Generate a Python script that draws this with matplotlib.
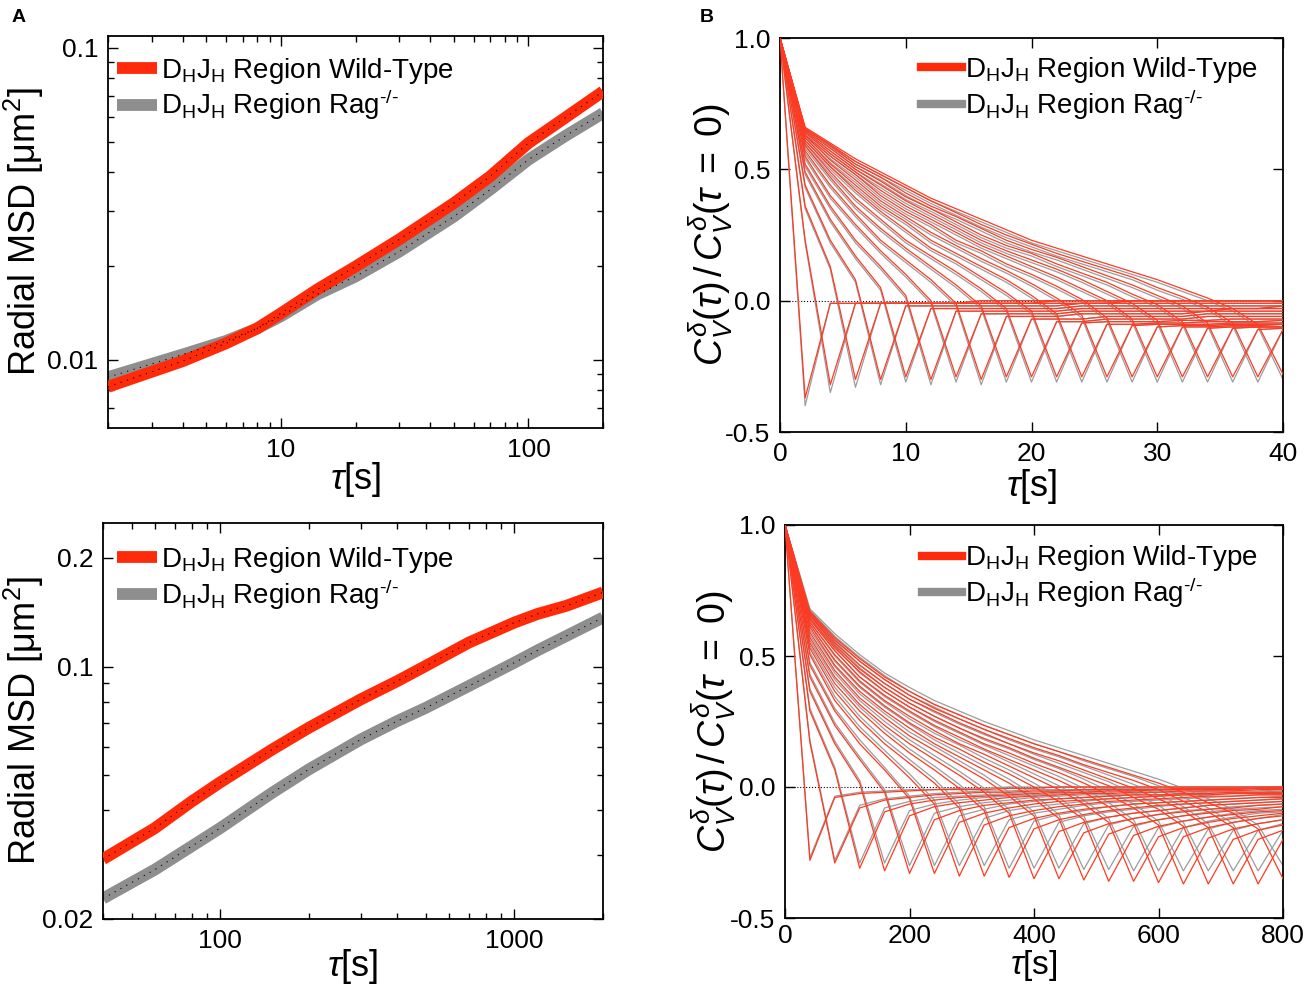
import matplotlib
matplotlib.use('Agg')
import matplotlib.pyplot as plt
from matplotlib.ticker import FixedLocator, NullFormatter, FuncFormatter

# fonts
plt.rcParams['font.family'] = ['Liberation Sans', 'DejaVu Sans']
plt.rcParams['mathtext.fontset'] = 'custom'
plt.rcParams['mathtext.rm'] = 'Liberation Sans'
plt.rcParams['mathtext.it'] = 'Liberation Sans:italic'
plt.rcParams['mathtext.bf'] = 'Liberation Sans:bold'
plt.rcParams['axes.unicode_minus'] = False

RED = '#ff2a0a'
GRAY = '#8e8e8e'
LINE_RED = '#ff3a22'
LINE_GRAY = '#9c9c9c'

LABEL_WT = r'D$_{\mathrm{H}}$J$_{\mathrm{H}}$ Region Wild-Type'
LABEL_RAG = r'D$_{\mathrm{H}}$J$_{\mathrm{H}}$ Region Rag$^{\text{-/-}}$'

# ---- panel A top: radial MSD, short times
msd_tau_short = [2, 4, 6, 8, 10, 14, 20, 30, 50, 70, 100, 140, 200]
msd_wt_short = [0.0082, 0.0099, 0.0113, 0.0126, 0.0141, 0.0168, 0.0199, 0.0243,
                0.0318, 0.0387, 0.0495, 0.0595, 0.0724]
msd_rag_short = [0.0088, 0.0104, 0.0115, 0.0126, 0.0138, 0.0162, 0.0185, 0.0222,
                 0.0288, 0.0351, 0.0438, 0.0520, 0.0617]

# ---- panel A bottom: radial MSD, long times
msd_tau_long = [40, 60, 80, 100, 150, 200, 300, 400, 500, 700, 1000, 1200, 1500, 2000]
msd_wt_long = [0.0293, 0.0357, 0.0423, 0.0478, 0.0589, 0.0677, 0.0811, 0.0912,
               0.1005, 0.1166, 0.1325, 0.1400, 0.1474, 0.1606]
msd_rag_long = [0.0228, 0.0274, 0.0318, 0.0357, 0.0447, 0.0519, 0.0628, 0.0707,
                0.0769, 0.0884, 0.1026, 0.1110, 0.1216, 0.1368]

# ---- panel B top: velocity autocorrelation, lag 2 s, one row per delta = 2..40 s
vacf_tau_short = [0, 2, 4, 6, 8, 10, 12, 14, 16, 18, 20, 22, 24, 26, 28, 30, 32, 34, 36, 38, 40]
vacf_wt_short = [
    [1.00, -0.37, -0.01, -0.01, -0.01, -0.01, -0.01, -0.01, 0.00, 0.00, 0.00, 0.00, 0.00, 0.00, 0.00, 0.00, 0.00, 0.00, 0.00, 0.00, 0.00],
    [1.00, 0.23, -0.32, -0.01, -0.01, -0.01, -0.01, -0.01, -0.01, -0.01, -0.01, 0.00, 0.00, 0.00, 0.00, 0.00, 0.00, 0.00, 0.00, 0.00, 0.00],
    [1.00, 0.36, 0.13, -0.30, -0.01, -0.01, -0.01, -0.01, -0.01, -0.01, -0.01, -0.01, -0.01, -0.01, 0.00, 0.00, 0.00, 0.00, 0.00, 0.00, 0.00],
    [1.00, 0.44, 0.23, 0.08, -0.30, -0.02, -0.02, -0.02, -0.02, -0.02, -0.02, -0.02, -0.01, -0.01, -0.01, -0.01, -0.01, -0.01, -0.01, -0.01, -0.01],
    [1.00, 0.49, 0.31, 0.17, 0.05, -0.29, -0.03, -0.03, -0.03, -0.03, -0.03, -0.03, -0.02, -0.02, -0.02, -0.02, -0.02, -0.02, -0.02, -0.02, -0.02],
    [1.00, 0.52, 0.36, 0.23, 0.13, 0.02, -0.30, -0.04, -0.04, -0.04, -0.04, -0.04, -0.03, -0.03, -0.03, -0.03, -0.03, -0.03, -0.03, -0.03, -0.02],
    [1.00, 0.55, 0.40, 0.29, 0.19, 0.10, 0.00, -0.29, -0.05, -0.05, -0.05, -0.05, -0.04, -0.04, -0.04, -0.04, -0.04, -0.04, -0.03, -0.03, -0.03],
    [1.00, 0.57, 0.44, 0.33, 0.23, 0.155, 0.08, -0.01, -0.30, -0.06, -0.06, -0.06, -0.05, -0.05, -0.05, -0.05, -0.05, -0.04, -0.04, -0.04, -0.04],
    [1.00, 0.59, 0.47, 0.36, 0.275, 0.20, 0.13, 0.06, -0.02, -0.29, -0.07, -0.07, -0.07, -0.06, -0.06, -0.06, -0.06, -0.05, -0.05, -0.05, -0.05],
    [1.00, 0.60, 0.49, 0.39, 0.31, 0.23, 0.17, 0.11, 0.045, -0.03, -0.29, -0.08, -0.08, -0.07, -0.07, -0.07, -0.07, -0.06, -0.06, -0.06, -0.06],
    [1.00, 0.61, 0.51, 0.42, 0.34, 0.27, 0.20, 0.15, 0.09, 0.03, -0.04, -0.29, -0.085, -0.08, -0.08, -0.08, -0.075, -0.075, -0.07, -0.07, -0.07],
    [1.00, 0.62, 0.52, 0.44, 0.36, 0.30, 0.23, 0.18, 0.13, 0.08, 0.02, -0.05, -0.29, -0.09, -0.09, -0.085, -0.085, -0.08, -0.08, -0.08, -0.075],
    [1.00, 0.63, 0.535, 0.46, 0.38, 0.32, 0.26, 0.21, 0.16, 0.115, 0.065, 0.01, -0.055, -0.29, -0.095, -0.09, -0.09, -0.09, -0.085, -0.085, -0.085],
    [1.00, 0.63, 0.55, 0.48, 0.40, 0.34, 0.29, 0.23, 0.19, 0.14, 0.10, 0.055, 0.005, -0.065, -0.29, -0.10, -0.095, -0.095, -0.09, -0.09, -0.09],
    [1.00, 0.64, 0.56, 0.49, 0.42, 0.36, 0.31, 0.26, 0.21, 0.17, 0.13, 0.09, 0.045, 0.00, -0.07, -0.29, -0.10, -0.10, -0.095, -0.095, -0.09],
    [1.00, 0.645, 0.57, 0.50, 0.44, 0.38, 0.33, 0.28, 0.23, 0.19, 0.155, 0.12, 0.08, 0.035, -0.01, -0.075, -0.29, -0.105, -0.10, -0.10, -0.10],
    [1.00, 0.65, 0.58, 0.51, 0.455, 0.395, 0.35, 0.30, 0.25, 0.21, 0.18, 0.14, 0.105, 0.07, 0.025, -0.015, -0.08, -0.29, -0.105, -0.10, -0.10],
    [1.00, 0.655, 0.59, 0.52, 0.47, 0.41, 0.36, 0.32, 0.275, 0.23, 0.195, 0.165, 0.13, 0.095, 0.06, 0.02, -0.02, -0.085, -0.29, -0.11, -0.105],
    [1.00, 0.655, 0.595, 0.53, 0.48, 0.43, 0.38, 0.335, 0.29, 0.25, 0.215, 0.18, 0.15, 0.12, 0.09, 0.05, 0.015, -0.025, -0.085, -0.29, -0.11],
    [1.00, 0.66, 0.60, 0.54, 0.49, 0.44, 0.39, 0.35, 0.31, 0.27, 0.23, 0.20, 0.17, 0.14, 0.11, 0.08, 0.045, 0.01, -0.03, -0.09, -0.28],
]
vacf_rag_short = [
    [1.00, -0.40, -0.01, -0.01, -0.01, -0.01, -0.01, -0.01, 0.00, 0.00, 0.00, 0.00, 0.00, 0.00, 0.00, 0.00, 0.00, 0.00, 0.00, 0.00, 0.00],
    [1.00, 0.22, -0.35, -0.01, -0.01, -0.01, -0.01, -0.01, -0.01, -0.01, -0.01, 0.00, 0.00, 0.00, 0.00, 0.00, 0.00, 0.00, 0.00, 0.00, 0.00],
    [1.00, 0.35, 0.12, -0.33, -0.01, -0.01, -0.01, -0.01, -0.01, -0.01, -0.01, -0.01, -0.01, -0.01, 0.00, 0.00, 0.00, 0.00, 0.00, 0.00, 0.00],
    [1.00, 0.43, 0.22, 0.07, -0.32, -0.02, -0.02, -0.02, -0.02, -0.02, -0.02, -0.02, -0.01, -0.01, -0.01, -0.01, -0.01, -0.01, -0.01, -0.01, -0.01],
    [1.00, 0.48, 0.30, 0.16, 0.04, -0.31, -0.03, -0.03, -0.03, -0.03, -0.03, -0.03, -0.02, -0.02, -0.02, -0.02, -0.02, -0.02, -0.02, -0.02, -0.02],
    [1.00, 0.51, 0.35, 0.22, 0.12, 0.01, -0.32, -0.04, -0.04, -0.04, -0.04, -0.04, -0.03, -0.03, -0.03, -0.03, -0.03, -0.03, -0.03, -0.03, -0.02],
    [1.00, 0.54, 0.39, 0.28, 0.18, 0.09, -0.01, -0.31, -0.05, -0.05, -0.05, -0.05, -0.04, -0.04, -0.04, -0.04, -0.04, -0.04, -0.03, -0.03, -0.03],
    [1.00, 0.56, 0.43, 0.32, 0.22, 0.145, 0.07, -0.02, -0.32, -0.06, -0.06, -0.06, -0.05, -0.05, -0.05, -0.05, -0.05, -0.04, -0.04, -0.04, -0.04],
    [1.00, 0.58, 0.46, 0.35, 0.265, 0.19, 0.12, 0.05, -0.03, -0.31, -0.07, -0.07, -0.07, -0.06, -0.06, -0.06, -0.06, -0.05, -0.05, -0.05, -0.05],
    [1.00, 0.59, 0.48, 0.38, 0.30, 0.22, 0.16, 0.10, 0.035, -0.04, -0.31, -0.08, -0.08, -0.07, -0.07, -0.07, -0.07, -0.06, -0.06, -0.06, -0.06],
    [1.00, 0.60, 0.50, 0.41, 0.33, 0.26, 0.19, 0.14, 0.08, 0.02, -0.05, -0.31, -0.085, -0.08, -0.08, -0.08, -0.075, -0.075, -0.07, -0.07, -0.07],
    [1.00, 0.61, 0.51, 0.43, 0.35, 0.29, 0.22, 0.17, 0.12, 0.07, 0.01, -0.06, -0.31, -0.09, -0.09, -0.085, -0.085, -0.08, -0.08, -0.08, -0.075],
    [1.00, 0.62, 0.525, 0.45, 0.37, 0.31, 0.25, 0.20, 0.15, 0.105, 0.055, 0.00, -0.065, -0.31, -0.095, -0.09, -0.09, -0.09, -0.085, -0.085, -0.085],
    [1.00, 0.625, 0.54, 0.47, 0.39, 0.33, 0.28, 0.22, 0.18, 0.13, 0.09, 0.045, -0.005, -0.075, -0.31, -0.10, -0.095, -0.095, -0.09, -0.09, -0.09],
    [1.00, 0.635, 0.55, 0.48, 0.41, 0.35, 0.30, 0.25, 0.20, 0.16, 0.12, 0.08, 0.035, -0.01, -0.08, -0.31, -0.10, -0.10, -0.095, -0.095, -0.09],
    [1.00, 0.64, 0.56, 0.49, 0.43, 0.37, 0.32, 0.27, 0.22, 0.18, 0.145, 0.11, 0.07, 0.025, -0.02, -0.085, -0.31, -0.105, -0.10, -0.10, -0.10],
    [1.00, 0.645, 0.57, 0.50, 0.445, 0.385, 0.34, 0.29, 0.24, 0.20, 0.17, 0.13, 0.095, 0.06, 0.015, -0.025, -0.09, -0.31, -0.105, -0.10, -0.10],
    [1.00, 0.65, 0.58, 0.51, 0.46, 0.40, 0.35, 0.31, 0.265, 0.22, 0.185, 0.155, 0.12, 0.085, 0.05, 0.01, -0.03, -0.095, -0.31, -0.11, -0.105],
    [1.00, 0.65, 0.585, 0.52, 0.47, 0.42, 0.37, 0.325, 0.28, 0.24, 0.205, 0.17, 0.14, 0.11, 0.08, 0.04, 0.005, -0.035, -0.095, -0.31, -0.11],
    [1.00, 0.655, 0.59, 0.53, 0.48, 0.43, 0.38, 0.34, 0.30, 0.26, 0.22, 0.19, 0.16, 0.13, 0.10, 0.07, 0.035, 0.00, -0.04, -0.10, -0.30],
]

# ---- panel B bottom: velocity autocorrelation, lag 40 s, one row per delta = 40..800 s
vacf_tau_long = [0, 40, 80, 120, 160, 200, 240, 280, 320, 360, 400, 440, 480, 520, 560, 600, 640, 680, 720, 760, 800]
vacf_wt_long = [
    [1.00, -0.28, -0.04, -0.025, -0.02, -0.015, -0.01, -0.01, -0.01, -0.005, -0.005, 0.00, 0.00, 0.00, 0.00, 0.00, 0.00, 0.00, 0.00, 0.00, 0.00],
    [1.00, 0.17, -0.29, -0.08, -0.05, -0.04, -0.03, -0.025, -0.02, -0.02, -0.015, -0.015, -0.01, -0.01, -0.01, -0.01, -0.005, -0.005, -0.005, -0.005, 0.00],
    [1.00, 0.29, 0.065, -0.31, -0.095, -0.065, -0.05, -0.04, -0.035, -0.03, -0.025, -0.02, -0.02, -0.015, -0.015, -0.01, -0.01, -0.01, -0.01, -0.005, -0.005],
    [1.00, 0.365, 0.165, 0.015, -0.32, -0.11, -0.075, -0.06, -0.05, -0.04, -0.035, -0.03, -0.025, -0.025, -0.02, -0.02, -0.015, -0.015, -0.015, -0.01, -0.01],
    [1.00, 0.42, 0.235, 0.105, -0.02, -0.33, -0.125, -0.09, -0.07, -0.06, -0.05, -0.045, -0.04, -0.035, -0.03, -0.03, -0.025, -0.025, -0.02, -0.02, -0.02],
    [1.00, 0.465, 0.29, 0.165, 0.065, -0.045, -0.33, -0.135, -0.10, -0.08, -0.065, -0.055, -0.05, -0.045, -0.04, -0.035, -0.03, -0.03, -0.025, -0.025, -0.025],
    [1.00, 0.505, 0.33, 0.215, 0.125, 0.035, -0.065, -0.34, -0.145, -0.11, -0.09, -0.075, -0.065, -0.055, -0.05, -0.045, -0.04, -0.035, -0.035, -0.03, -0.03],
    [1.00, 0.53, 0.365, 0.255, 0.165, 0.09, 0.015, -0.08, -0.34, -0.155, -0.12, -0.10, -0.085, -0.075, -0.065, -0.06, -0.055, -0.05, -0.045, -0.04, -0.04],
    [1.00, 0.55, 0.395, 0.29, 0.205, 0.13, 0.065, -0.005, -0.09, -0.345, -0.16, -0.125, -0.105, -0.09, -0.08, -0.07, -0.065, -0.06, -0.055, -0.05, -0.045],
    [1.00, 0.57, 0.42, 0.315, 0.235, 0.165, 0.105, 0.045, -0.02, -0.10, -0.35, -0.17, -0.135, -0.115, -0.10, -0.09, -0.08, -0.07, -0.065, -0.06, -0.055],
    [1.00, 0.59, 0.445, 0.34, 0.265, 0.195, 0.14, 0.085, 0.03, -0.035, -0.11, -0.35, -0.175, -0.14, -0.12, -0.105, -0.095, -0.085, -0.08, -0.07, -0.065],
    [1.00, 0.61, 0.465, 0.365, 0.29, 0.225, 0.165, 0.115, 0.065, 0.015, -0.045, -0.12, -0.355, -0.18, -0.145, -0.125, -0.11, -0.10, -0.09, -0.085, -0.075],
    [1.00, 0.62, 0.485, 0.385, 0.31, 0.245, 0.19, 0.145, 0.095, 0.05, 0.00, -0.055, -0.125, -0.36, -0.185, -0.15, -0.13, -0.115, -0.105, -0.095, -0.09],
    [1.00, 0.63, 0.505, 0.405, 0.33, 0.27, 0.215, 0.165, 0.125, 0.08, 0.035, -0.01, -0.065, -0.135, -0.36, -0.19, -0.155, -0.135, -0.12, -0.11, -0.10],
    [1.00, 0.64, 0.52, 0.42, 0.35, 0.29, 0.235, 0.19, 0.145, 0.105, 0.065, 0.025, -0.02, -0.075, -0.14, -0.365, -0.19, -0.155, -0.135, -0.12, -0.11],
    [1.00, 0.645, 0.53, 0.44, 0.365, 0.305, 0.255, 0.21, 0.165, 0.13, 0.09, 0.055, 0.015, -0.03, -0.08, -0.145, -0.37, -0.195, -0.16, -0.14, -0.125],
    [1.00, 0.655, 0.54, 0.45, 0.38, 0.32, 0.27, 0.225, 0.185, 0.15, 0.11, 0.075, 0.04, 0.005, -0.04, -0.085, -0.15, -0.37, -0.20, -0.165, -0.145],
    [1.00, 0.66, 0.55, 0.465, 0.395, 0.335, 0.29, 0.245, 0.205, 0.165, 0.13, 0.10, 0.065, 0.03, -0.005, -0.045, -0.09, -0.155, -0.37, -0.20, -0.165],
    [1.00, 0.665, 0.56, 0.48, 0.41, 0.35, 0.30, 0.26, 0.22, 0.185, 0.15, 0.12, 0.085, 0.055, 0.025, -0.01, -0.055, -0.095, -0.155, -0.37, -0.20],
    [1.00, 0.67, 0.57, 0.49, 0.42, 0.365, 0.315, 0.275, 0.235, 0.20, 0.165, 0.135, 0.105, 0.075, 0.045, 0.015, -0.02, -0.06, -0.10, -0.16, -0.35],
]
vacf_rag_long = [
    [1.00, -0.27, -0.035, -0.02, -0.015, -0.01, -0.01, -0.005, -0.005, 0.00, 0.00, 0.00, 0.00, 0.00, 0.00, 0.00, 0.00, 0.00, 0.00, 0.00, 0.00],
    [1.00, 0.18, -0.28, -0.07, -0.045, -0.035, -0.025, -0.02, -0.015, -0.015, -0.01, -0.01, -0.01, -0.005, -0.005, -0.005, 0.00, 0.00, 0.00, 0.00, 0.00],
    [1.00, 0.30, 0.075, -0.29, -0.08, -0.055, -0.04, -0.035, -0.03, -0.025, -0.02, -0.015, -0.015, -0.01, -0.01, -0.01, -0.005, -0.005, -0.005, 0.00, 0.00],
    [1.00, 0.375, 0.175, 0.025, -0.29, -0.09, -0.065, -0.05, -0.04, -0.035, -0.03, -0.025, -0.02, -0.02, -0.015, -0.015, -0.01, -0.01, -0.01, -0.005, -0.005],
    [1.00, 0.43, 0.245, 0.115, -0.01, -0.30, -0.10, -0.075, -0.06, -0.05, -0.04, -0.035, -0.03, -0.03, -0.025, -0.02, -0.02, -0.015, -0.015, -0.015, -0.01],
    [1.00, 0.475, 0.30, 0.18, 0.075, -0.035, -0.30, -0.11, -0.085, -0.065, -0.055, -0.045, -0.04, -0.035, -0.03, -0.03, -0.025, -0.02, -0.02, -0.02, -0.015],
    [1.00, 0.515, 0.345, 0.23, 0.14, 0.05, -0.05, -0.30, -0.12, -0.09, -0.075, -0.065, -0.055, -0.045, -0.04, -0.035, -0.03, -0.03, -0.025, -0.025, -0.02],
    [1.00, 0.54, 0.38, 0.27, 0.18, 0.105, 0.03, -0.065, -0.30, -0.125, -0.10, -0.085, -0.07, -0.06, -0.055, -0.05, -0.045, -0.04, -0.035, -0.03, -0.03],
    [1.00, 0.56, 0.41, 0.305, 0.22, 0.145, 0.08, 0.01, -0.075, -0.31, -0.13, -0.105, -0.09, -0.075, -0.065, -0.06, -0.055, -0.05, -0.045, -0.04, -0.035],
    [1.00, 0.58, 0.435, 0.33, 0.25, 0.18, 0.12, 0.06, -0.005, -0.085, -0.31, -0.135, -0.11, -0.095, -0.085, -0.075, -0.065, -0.06, -0.055, -0.05, -0.045],
    [1.00, 0.60, 0.46, 0.355, 0.28, 0.21, 0.155, 0.10, 0.045, -0.02, -0.095, -0.31, -0.14, -0.115, -0.10, -0.09, -0.08, -0.07, -0.065, -0.06, -0.055],
    [1.00, 0.62, 0.48, 0.38, 0.305, 0.24, 0.18, 0.13, 0.08, 0.03, -0.03, -0.105, -0.315, -0.145, -0.12, -0.105, -0.09, -0.085, -0.075, -0.07, -0.065],
    [1.00, 0.63, 0.50, 0.40, 0.325, 0.26, 0.205, 0.16, 0.11, 0.065, 0.015, -0.04, -0.11, -0.315, -0.15, -0.125, -0.11, -0.095, -0.085, -0.08, -0.075],
    [1.00, 0.64, 0.52, 0.42, 0.345, 0.285, 0.23, 0.18, 0.14, 0.095, 0.05, 0.005, -0.05, -0.12, -0.32, -0.155, -0.13, -0.115, -0.10, -0.09, -0.085],
    [1.00, 0.65, 0.535, 0.435, 0.365, 0.305, 0.25, 0.205, 0.16, 0.12, 0.08, 0.04, -0.005, -0.06, -0.125, -0.32, -0.155, -0.13, -0.115, -0.10, -0.095],
    [1.00, 0.655, 0.545, 0.455, 0.38, 0.32, 0.27, 0.225, 0.18, 0.145, 0.105, 0.07, 0.03, -0.015, -0.065, -0.13, -0.32, -0.16, -0.135, -0.12, -0.105],
    [1.00, 0.665, 0.555, 0.465, 0.395, 0.335, 0.285, 0.24, 0.20, 0.165, 0.125, 0.09, 0.055, 0.02, -0.025, -0.07, -0.135, -0.32, -0.165, -0.14, -0.125],
    [1.00, 0.67, 0.565, 0.48, 0.41, 0.35, 0.305, 0.26, 0.22, 0.18, 0.145, 0.115, 0.08, 0.045, 0.01, -0.03, -0.075, -0.14, -0.32, -0.165, -0.14],
    [1.00, 0.675, 0.575, 0.495, 0.425, 0.365, 0.315, 0.275, 0.235, 0.20, 0.165, 0.135, 0.10, 0.07, 0.04, 0.005, -0.04, -0.08, -0.14, -0.32, -0.165],
    [1.00, 0.68, 0.585, 0.505, 0.435, 0.38, 0.33, 0.29, 0.25, 0.215, 0.18, 0.15, 0.12, 0.09, 0.06, 0.03, -0.005, -0.045, -0.085, -0.145, -0.30],
]

TICK_FS = 19
LEG_FS = 20


def style_ticks(ax, xpad=7):
    ax.tick_params(which='both', direction='in', top=True, right=True, labelsize=TICK_FS, width=1.0)
    ax.tick_params(which='major', length=7, pad=7)
    ax.tick_params(axis='x', which='major', pad=xpad)
    ax.tick_params(which='minor', length=4)
    for s in ax.spines.values():
        s.set_linewidth(1.3)


def add_legend(ax, loc, h, l, anchor):
    ax.legend(h, l, loc=loc, bbox_to_anchor=anchor, frameon=False, fontsize=LEG_FS,
              handlelength=1.45, handletextpad=0.12, labelspacing=0.08,
              borderaxespad=0.0, borderpad=0.0)


def msd_panel(ax, tau, wt, rag, xlim, ylim, xmajor, xminor, ymajor, yminor, ylab_x, anchor, xpad):
    ax.plot(tau, rag, color=GRAY, lw=8.5, solid_capstyle='butt', label=LABEL_RAG, zorder=2)
    ax.plot(tau, wt, color=RED, lw=8.5, solid_capstyle='butt', label=LABEL_WT, zorder=3)
    ax.plot(tau, rag, color='black', lw=0.8, ls=(0, (1, 5)), zorder=4)
    ax.plot(tau, wt, color='black', lw=0.8, ls=(0, (1, 5)), zorder=4)
    ax.set_xscale('log')
    ax.set_yscale('log')
    ax.set_xlim(*xlim)
    ax.set_ylim(*ylim)
    ax.xaxis.set_major_locator(FixedLocator(xmajor))
    ax.xaxis.set_minor_locator(FixedLocator(xminor))
    ax.yaxis.set_major_locator(FixedLocator(ymajor))
    ax.yaxis.set_minor_locator(FixedLocator(yminor))
    fmt = FuncFormatter(lambda v, p: '%g' % v)
    ax.xaxis.set_major_formatter(fmt)
    ax.yaxis.set_major_formatter(fmt)
    ax.xaxis.set_minor_formatter(NullFormatter())
    ax.yaxis.set_minor_formatter(NullFormatter())
    style_ticks(ax)
    ax.set_xlabel(r'$\tau$[s]', fontsize=26, labelpad=xpad)
    ax.set_ylabel(r'Radial MSD [$\mathrm{\mu}$m$^2$]', fontsize=26)
    ax.yaxis.set_label_coords(ylab_x, 0.5)
    h, l = ax.get_legend_handles_labels()
    add_legend(ax, 'upper left', h[::-1], l[::-1], anchor)


def vacf_panel(ax, tau, wt_rows, rag_rows, xmax, xticks, ylab_x, anchor, xpad, tpad, xfs):
    ax.axhline(0, color='black', lw=0.8, ls=':', zorder=1)
    for row in rag_rows:
        ax.plot(tau, row, color=LINE_GRAY, lw=0.9, zorder=2)
    for row in wt_rows:
        ax.plot(tau, row, color=LINE_RED, lw=0.9, zorder=3)
    ax.plot([], [], color=RED, lw=6, label=LABEL_WT)
    ax.plot([], [], color=GRAY, lw=6, label=LABEL_RAG)
    ax.set_xlim(0, xmax)
    ax.set_ylim(-0.5, 1.0)
    ax.set_xticks(xticks)
    ax.set_yticks([-0.5, 0.0, 0.5, 1.0])
    ax.yaxis.set_major_formatter(FuncFormatter(lambda v, p: '%.1f' % v))
    style_ticks(ax, tpad)
    ax.set_xlabel(r'$\tau$[s]', fontsize=xfs, labelpad=xpad)
    ax.set_ylabel(r'$C_V^{\delta}(\tau)\,/\,C_V^{\delta}(\tau\;=\;0)$', fontsize=27)
    ax.yaxis.set_label_coords(ylab_x, 0.5)
    h, l = ax.get_legend_handles_labels()
    add_legend(ax, 'upper right', h, l, anchor)


fig = plt.figure(figsize=(13.16, 9.84), dpi=100)
W, H = 1316.0, 984.0


def axes_px(left, top, right, bottom):
    return fig.add_axes([left / W, 1 - bottom / H, (right - left) / W, (bottom - top) / H])


ax_tl = axes_px(108, 36, 603, 428)
ax_tr = axes_px(780, 38, 1283, 432)
ax_bl = axes_px(103, 523, 603, 919)
ax_br = axes_px(785, 525, 1283, 918)

msd_panel(ax_tl, msd_tau_short, msd_wt_short, msd_rag_short,
          (2, 200), (0.00605, 0.109),
          [10, 100],
          [2, 3, 4, 5, 6, 7, 8, 9, 20, 30, 40, 50, 60, 70, 80, 90, 200],
          [0.01, 0.1],
          [0.006, 0.007, 0.008, 0.009, 0.02, 0.03, 0.04, 0.05, 0.06, 0.07, 0.08, 0.09],
          -0.125, (0.018, 0.95), -1)

msd_panel(ax_bl, msd_tau_long, msd_wt_long, msd_rag_long,
          (40, 2000), (0.02, 0.25),
          [100, 1000],
          [40, 50, 60, 70, 80, 90, 200, 300, 400, 500, 600, 700, 800, 900, 2000],
          [0.02, 0.1, 0.2],
          [0.03, 0.04, 0.05, 0.06, 0.07, 0.08, 0.09],
          -0.114, (0.028, 0.945), -4)

vacf_panel(ax_tr, vacf_tau_short, vacf_wt_short, vacf_rag_short, 40, [0, 10, 20, 30, 40],
           -0.089, (0.95, 0.957), 1, 7, 26)
vacf_panel(ax_br, vacf_tau_long, vacf_wt_long, vacf_rag_long, 800, [0, 200, 400, 600, 800],
           -0.094, (0.95, 0.953), 0.5, 4, 24)

fig.text(12 / W, 1 - 18 / H, 'A', fontsize=14, fontweight='bold', va='center', ha='left')
fig.text(700 / W, 1 - 18 / H, 'B', fontsize=14, fontweight='bold', va='center', ha='left')

fig.savefig('out.png', dpi=100)
